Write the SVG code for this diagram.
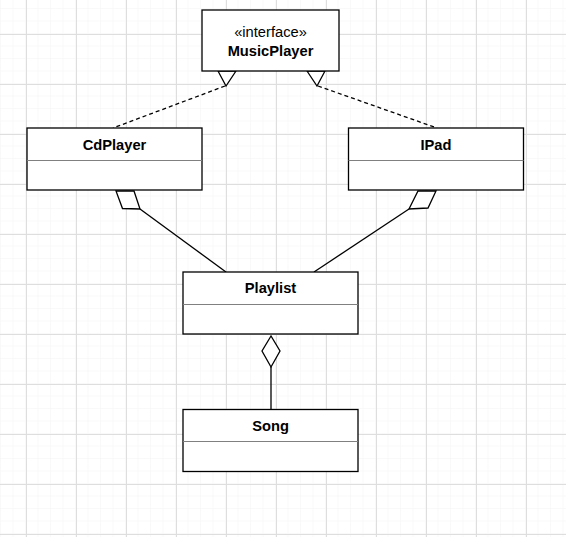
<svg xmlns="http://www.w3.org/2000/svg" width="566" height="537" viewBox="0 0 566 537">
<defs>
<pattern id="minor" x="1" y="9" width="12.5" height="12.5" patternUnits="userSpaceOnUse">
<path d="M12.5 0V12.5M0 12.5H12.5" fill="none" stroke="#f3f3f3" stroke-width="1"/>
</pattern>
<pattern id="major" x="26" y="34" width="50" height="50" patternUnits="userSpaceOnUse">
<path d="M0.5 0V50M0 0.5H50" fill="none" stroke="#dedede" stroke-width="1"/>
</pattern>
<style>
.box{fill:#fff;stroke:#000;stroke-width:1.3}
.div{stroke:#808080;stroke-width:1}
.t{font-family:"Liberation Sans",Arial,sans-serif;font-size:14.7px;text-anchor:middle;fill:#000}
.b{font-weight:bold}
.edge{fill:none;stroke:#000;stroke-width:1.3}
.dash{stroke-dasharray:4 3}
.head{fill:#fff;stroke:#000;stroke-width:1.3;stroke-linejoin:miter}
</style>
</defs>
<rect width="566" height="537" fill="#fff"/>
<rect width="566" height="537" fill="url(#minor)"/>
<rect width="566" height="537" fill="url(#major)"/>

<g id="connectors">
<line class="edge dash" x1="225" y1="86" x2="113" y2="128"/>
<line class="edge dash" x1="318" y1="86" x2="437" y2="128"/>
<polygon class="head" points="218,71 236,71 226,86"/>
<polygon class="head" points="307,71 325,71 317,86"/>
<line class="edge" x1="140" y1="209" x2="226" y2="272"/>
<polygon class="head" points="116,191 134,191 140,209 122.5,208.5"/>
<line class="edge" x1="409" y1="209" x2="314" y2="272"/>
<polygon class="head" points="418,191 436,191 428,208 409,209"/>
<line class="edge" x1="271" y1="367" x2="271" y2="409"/>
<polygon class="head" points="271,336 262,351 271,367 280,351"/>
</g>

<g id="MusicPlayer">
<rect class="box" x="202" y="10" width="137" height="61"/>
<text class="t" x="270.5" y="37">«interface»</text>
<text class="t b" x="270.5" y="55.5">MusicPlayer</text>
</g>

<g id="CdPlayer">
<rect class="box" x="27" y="128" width="175" height="62"/>
<line class="div" x1="27" y1="160.5" x2="202" y2="160.5"/>
<text class="t b" x="114.5" y="149.5">CdPlayer</text>
</g>

<g id="IPad">
<rect class="box" x="348.5" y="128" width="175" height="62"/>
<line class="div" x1="348.5" y1="160.5" x2="523.5" y2="160.5"/>
<text class="t b" x="436" y="149.5">IPad</text>
</g>

<g id="Playlist">
<rect class="box" x="183" y="272" width="175" height="62"/>
<line class="div" x1="183" y1="304.5" x2="358" y2="304.5"/>
<text class="t b" x="270.5" y="292.5">Playlist</text>
</g>

<g id="Song">
<rect class="box" x="183" y="409.5" width="175" height="62"/>
<line class="div" x1="183" y1="441.5" x2="358" y2="441.5"/>
<text class="t b" x="270.5" y="430.5">Song</text>
</g>
</svg>
